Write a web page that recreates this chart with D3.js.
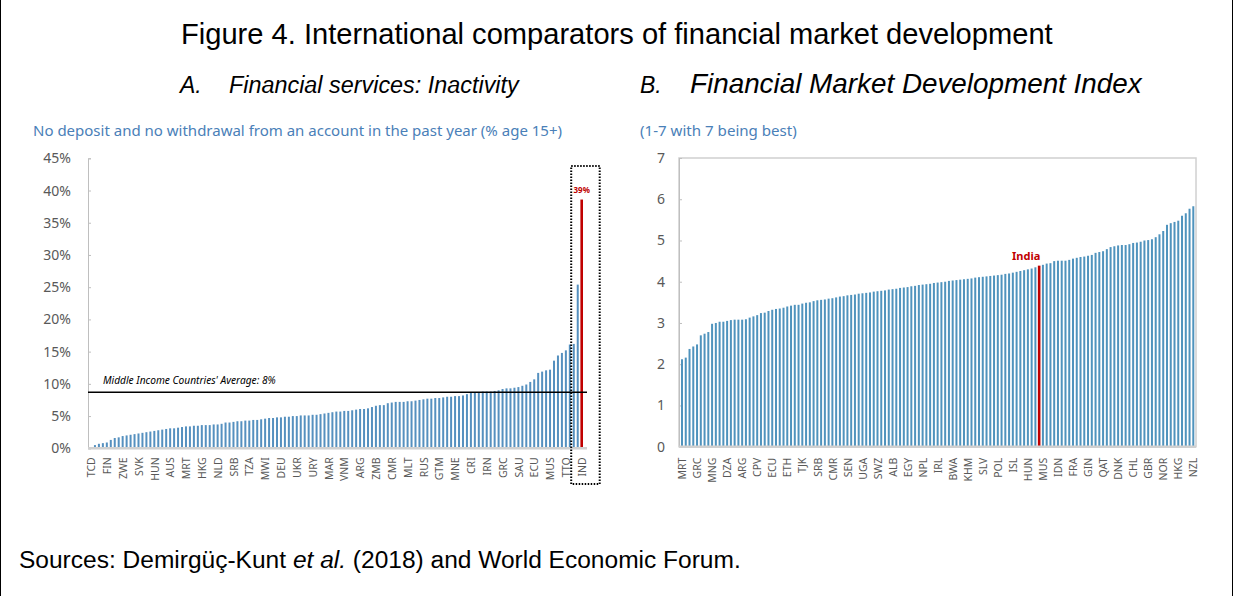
<!DOCTYPE html>
<html><head><meta charset="utf-8">
<script src="https://cdn.jsdelivr.net/npm/d3@7"></script>
<style>
html,body{margin:0;padding:0;background:#fff;}
svg{display:block;}
</style></head>
<body>
<svg id="c" width="1234" height="596"></svg>
<script>
// ---------- DATA ----------
const leftTickLabels = ["TCD","FIN","ZWE","SVK","HUN","AUS","MRT","HKG","NLD","SRB","TZA","MWI","DEU","UKR","URY","MAR","VNM","ARG","ZMB","CMR","MLT","RUS","GTM","MNE","CRI","IRN","GRC","SAU","ECU","MUS","TTO","IND"];
const leftValues = [0.1,0.5,0.7,0.8,0.9,1.3,1.6,1.7,1.9,2.0,2.1,2.2,2.3,2.4,2.5,2.6,2.7,2.8,2.9,3.0,
 3.1,3.1,3.2,3.3,3.4,3.4,3.5,3.5,3.6,3.6,3.6,3.7,3.7,3.8,4.0,4.0,4.1,4.2,4.2,4.3,
 4.3,4.4,4.4,4.5,4.6,4.7,4.7,4.8,4.8,4.9,4.9,5.0,5.0,5.1,5.1,5.1,5.2,5.2,5.3,5.4,
 5.5,5.6,5.7,5.7,5.8,5.8,5.9,6.0,6.1,6.1,6.2,6.4,6.6,6.7,6.7,7.0,7.1,7.2,7.2,7.2,
 7.3,7.3,7.4,7.5,7.6,7.7,7.7,7.8,7.8,7.9,8.0,8.0,8.1,8.1,8.2,8.4,8.6,8.7,8.7,8.8,
 8.8,8.8,8.9,9.0,9.2,9.3,9.3,9.4,9.5,9.7,9.9,10.3,10.7,11.7,11.9,12.1,12.2,13.6,14.4,14.8,
 15.2,16.1,16.2,25.4,38.6];
const leftAverage = 8.7;
const leftAverageLabel = "Middle Income Countries' Average: 8%";
const leftHighlightLabel = "39%";
const leftYTicks = [0,5,10,15,20,25,30,35,40,45];

const rightTickLabels = ["MRT","GRC","MNG","DZA","ARG","CPV","ECU","ETH","TJK","SRB","CMR","SEN","UGA","SWZ","ALB","EGY","NPL","IRL","BWA","KHM","SLV","POL","ISL","HUN","MUS","IDN","FRA","GIN","QAT","DNK","CHL","GBR","NOR","HKG","NZL"];
const rightValues = [2.12,2.16,2.37,2.43,2.48,2.70,2.74,2.78,2.98,3.00,3.03,3.03,3.05,3.07,3.08,3.08,3.08,3.09,3.13,3.16,
 3.19,3.24,3.25,3.29,3.32,3.34,3.35,3.37,3.40,3.42,3.44,3.44,3.47,3.49,3.50,3.53,3.55,3.56,3.57,3.59,
 3.60,3.62,3.64,3.65,3.67,3.68,3.69,3.71,3.72,3.73,3.74,3.76,3.77,3.78,3.79,3.81,3.82,3.83,3.85,3.86,
 3.87,3.89,3.90,3.92,3.93,3.94,3.95,3.97,3.98,3.99,4.00,4.02,4.03,4.04,4.05,4.06,4.07,4.08,4.10,4.11,
 4.12,4.13,4.14,4.15,4.16,4.17,4.19,4.20,4.22,4.24,4.26,4.28,4.30,4.32,4.35,4.39,
 4.41,4.44,4.45,4.50,4.51,4.51,4.51,4.53,4.56,4.58,4.60,4.61,4.63,4.65,4.70,4.72,4.74,4.79,4.84,4.86,
 4.88,4.89,4.89,4.91,4.94,4.95,4.97,5.00,5.01,5.03,5.08,5.15,5.23,5.38,5.42,5.45,5.48,5.60,5.66,5.77,5.83];
const rightHighlightIndex = 95;
const rightHighlightLabel = "India";
const rightYTicks = [0,1,2,3,4,5,6,7];

// ---------- DRAW ----------
const svg = d3.select("#c");
const blue = "#5590bf", red = "#c00000", tickGrey = "#595959";
const sans = "'Liberation Sans', Arial, sans-serif";
const ui = "'Noto Sans', 'Open Sans', sans-serif";

function fit(sel, w){ // scale font-size so the text spans w pixels
  const n = sel.node(); const fs = parseFloat(sel.attr("font-size"));
  const L = n.getComputedTextLength(); if (L>0) sel.attr("font-size", fs*w/L);
  return sel;
}

// outer box sides
svg.append("line").attr("x1",0.5).attr("x2",0.5).attr("y1",0).attr("y2",596).attr("stroke","#000");
svg.append("line").attr("x1",1232.5).attr("x2",1232.5).attr("y1",0).attr("y2",596).attr("stroke","#000");

// titles
fit(svg.append("text").attr("x",181).attr("y",44).attr("font-family",sans).attr("font-size",24).attr("fill","#000")
  .text("Figure 4. International comparators of financial market development"), 872);
svg.append("text").attr("x",180).attr("y",93).attr("font-family",sans).attr("font-size",23).attr("font-style","italic").text("A.");
fit(svg.append("text").attr("x",229).attr("y",93).attr("font-family",sans).attr("font-size",23).attr("font-style","italic")
  .text("Financial services: Inactivity"), 290);
svg.append("text").attr("x",640).attr("y",93).attr("font-family",sans).attr("font-size",23).attr("font-style","italic").text("B.");
fit(svg.append("text").attr("x",690).attr("y",93).attr("font-family",sans).attr("font-size",23).attr("font-style","italic")
  .text("Financial Market Development Index"), 452);

fit(svg.append("text").attr("x",33).attr("y",136).attr("font-family",ui).attr("font-size",13).attr("fill","#4a80b8")
  .text("No deposit and no withdrawal from an account in the past year (% age 15+)"), 529);
fit(svg.append("text").attr("x",640).attr("y",136).attr("font-family",ui).attr("font-size",13).attr("fill","#4a80b8")
  .text("(1-7 with 7 being best)"), 157);

// sources
const src = svg.append("text").attr("x",19).attr("y",568).attr("font-family",sans).attr("font-size",17).attr("fill","#000");
src.append("tspan").text("Sources: Demirgüç-Kunt ");
src.append("tspan").attr("font-style","italic").text("et al.");
src.append("tspan").text(" (2018) and World Economic Forum.");
fit(src, 722);

// ---------- LEFT CHART ----------
{
  const x = d3.scalePoint().domain(d3.range(leftValues.length)).range([91, 581.7]);
  const y = d3.scaleLinear().domain([0,45]).range([448.3,158.3]);
  const g = svg.append("g");
  const ya = g.append("g").attr("transform","translate(88,0)")
    .call(d3.axisLeft(y).tickValues(leftYTicks).tickFormat(d=>d+"%").tickSize(-3).tickPadding(17));
  ya.select(".domain").attr("stroke","#bfbfbf");
  ya.selectAll(".tick line").attr("stroke","#bfbfbf");
  ya.selectAll("text").attr("font-family",ui).attr("font-size",14).attr("fill",tickGrey);
  const last = leftValues.length-1;
  g.selectAll("rect.b").data(leftValues).join("rect").attr("class","b")
    .attr("x",(d,i)=>x(i)-(i===last?1.3:1)).attr("width",(d,i)=>i===last?2.6:2)
    .attr("y",d=>y(d)).attr("height",d=>y(0)-y(d))
    .attr("fill",(d,i)=>i===last?red:blue);
  g.append("line").attr("x1",88).attr("x2",587).attr("y1",y(0)).attr("y2",y(0)).attr("stroke","#d0d0d0").attr("stroke-width",2.5);
  const xa = g.append("g").attr("transform",`translate(0,${y(0)})`)
    .call(d3.axisBottom(x).tickValues(d3.range(0,leftValues.length,4)).tickFormat((d)=>leftTickLabels[d/4]).tickSize(0));
  xa.select(".domain").remove();
  xa.selectAll("text").attr("font-family",ui).attr("font-size",10.5).attr("fill",tickGrey)
    .attr("text-anchor","end").attr("transform","rotate(-90)").attr("x",-9).attr("y",0).attr("dy","0.35em");
  g.append("line").attr("x1",88).attr("x2",587).attr("y1",y(leftAverage)).attr("y2",y(leftAverage)).attr("stroke","#000").attr("stroke-width",1.3);
  fit(g.append("text").attr("x",103).attr("y",y(leftAverage)-8).attr("font-family",ui).attr("font-size",8).attr("font-style","italic").attr("fill","#000")
    .text(leftAverageLabel), 173);
  g.append("text").attr("x",x(last)).attr("y",y(leftValues[last])-7).attr("text-anchor","middle")
    .attr("font-family",ui).attr("font-size",8).attr("font-weight","bold").attr("fill",red).text(leftHighlightLabel);
  g.append("rect").attr("x",x(last)-10.5).attr("y",166).attr("width",28.5).attr("height",318)
    .attr("fill","none").attr("stroke","#000").attr("stroke-width",2).attr("stroke-dasharray","1.5,1.5");
}

// ---------- RIGHT CHART ----------
{
  const x = d3.scalePoint().domain(d3.range(rightValues.length)).range([682, 1193.3]);
  const y = d3.scaleLinear().domain([0,7]).range([446.7,158]);
  const g = svg.append("g");
  g.append("rect").attr("x",679).attr("y",158).attr("width",517).attr("height",y(0)-158)
    .attr("fill","none").attr("stroke","#d0d0d0").attr("stroke-width",1.5);
  const ya = g.append("g").attr("transform","translate(679,0)")
    .call(d3.axisLeft(y).tickValues(rightYTicks).tickFormat(d3.format("d")).tickSize(-3).tickPadding(14));
  ya.select(".domain").attr("stroke","#bfbfbf");
  ya.selectAll(".tick line").attr("stroke","#bfbfbf");
  ya.selectAll("text").attr("font-family",ui).attr("font-size",14).attr("fill",tickGrey);
  g.selectAll("rect.b").data(rightValues).join("rect").attr("class","b")
    .attr("x",(d,i)=>x(i)-(i===rightHighlightIndex?1.3:1)).attr("width",(d,i)=>i===rightHighlightIndex?2.6:2)
    .attr("y",d=>y(d)).attr("height",d=>y(0)-y(d))
    .attr("fill",(d,i)=>i===rightHighlightIndex?red:"#4f93bd");
  g.append("line").attr("x1",679).attr("x2",1196).attr("y1",y(0)).attr("y2",y(0)).attr("stroke","#d0d0d0").attr("stroke-width",2.5);
  const xa = g.append("g").attr("transform",`translate(0,${y(0)})`)
    .call(d3.axisBottom(x).tickValues(d3.range(0,rightValues.length,4)).tickFormat((d)=>rightTickLabels[d/4]).tickSize(0));
  xa.select(".domain").remove();
  xa.selectAll("text").attr("font-family",ui).attr("font-size",10.5).attr("fill",tickGrey)
    .attr("text-anchor","end").attr("transform","rotate(-90)").attr("x",-11).attr("y",0).attr("dy","0.35em");
  g.append("text").attr("x",x(rightHighlightIndex)-13).attr("y",y(rightValues[rightHighlightIndex])-6).attr("text-anchor","middle")
    .attr("font-family",ui).attr("font-size",11).attr("font-weight","bold").attr("fill",red).text(rightHighlightLabel);
}
</script>
</body></html>
